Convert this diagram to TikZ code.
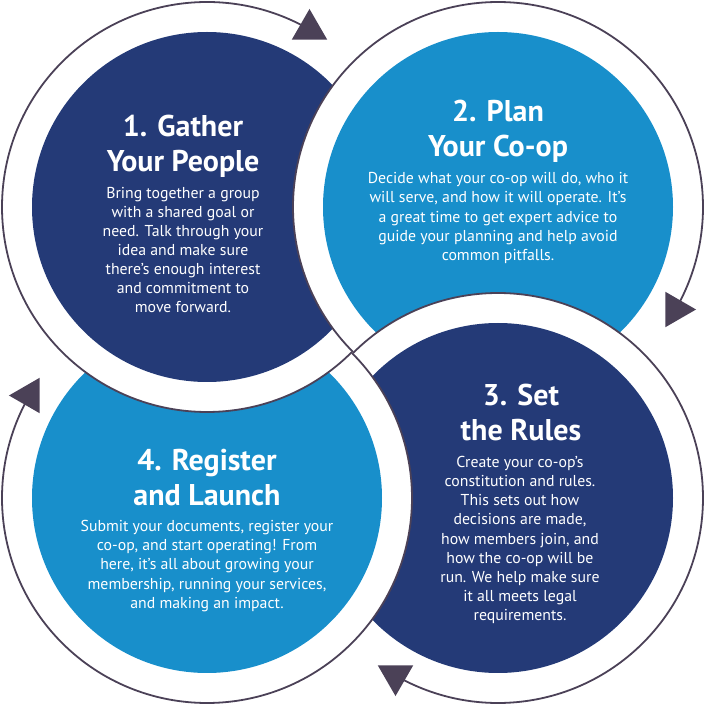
\documentclass[tikz,border=0pt]{standalone}
\usepackage{fontspec}
\setmainfont{PT Sans}
\usetikzlibrary{calc,shapes.geometric,positioning}
\definecolor{navy}{HTML}{243A77}
\definecolor{sky}{HTML}{188FCB}
\definecolor{ringc}{HTML}{4B4157}
\begin{document}
\begin{tikzpicture}[x=1pt,y=1pt,
  ring/.style={draw=ringc,line width=1.8pt},
  tip/.style={regular polygon,regular polygon sides=3,minimum size=41pt,inner sep=0pt,fill=ringc},
  head/.style={text=white,align=center,font=\bfseries\fontsize{30}{35}\selectfont},
  body/.style={text=white,align=center,font=\fontsize{15.8}{19.1}\selectfont}]
  \useasboundingbox (0,0) rectangle (705,705);
  \coordinate (c1) at (207,498); \coordinate (c2) at (498,498);
  \coordinate (c3) at (498,207); \coordinate (c4) at (207,207);
  \foreach \n/\m/\col in {1/2/navy,2/3/sky,3/4/navy,4/1/sky}{
    \begin{scope}[even odd rule]
      \clip (0,0) rectangle (705,705) (c\m) circle (205);
      \fill[\col] (c\n) circle (175);
    \end{scope}}
  \foreach \n/\s/\r in {1/315/0,2/225/-90,3/135/180,4/45/90}
    \draw[ring] ($(c\n)+(\s:205)$) arc[start angle=\s,end angle=\s-255,radius=205]
      node[tip,shape border rotate=\r] (a\n) {};
  \node[head] (h1) at (183,559) {1. Gather\\Your People};
  \node[body] (b1) at (183,455) {Bring together a group\\with a shared goal or\\need. Talk through your\\idea and make sure\\there’s enough interest\\and commitment to\\move forward.};
  \node[head] (h2) at (498,574) {2. Plan\\Your Co-op};
  \node[body] (b2) at (498,487) {Decide what your co-op will do, who it\\will serve, and how it will operate. It’s\\a great time to get expert advice to\\guide your planning and help avoid\\common pitfalls.};
  \node[head] (h3) at (521,292) {3. Set\\the Rules};
  \node[body] (b3) at (520,165) {Create your co-op’s\\constitution and rules.\\This sets out how\\decisions are made,\\how members join, and\\how the co-op will be\\run. We help make sure\\it all meets legal\\requirements.};
  \node[head] (h4) at (207,227) {4. Register\\and Launch};
  \node[body] (b4) at (207,139) {Submit your documents, register your\\co-op, and start operating! From\\here, it’s all about growing your\\membership, running your services,\\and making an impact.};
\end{tikzpicture}
\end{document}
